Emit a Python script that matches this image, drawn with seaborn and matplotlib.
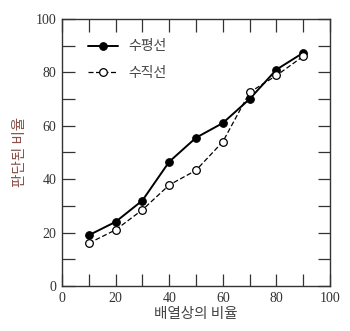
import matplotlib
matplotlib.use("Agg")
import matplotlib.pyplot as plt
import seaborn as sns
import pandas as pd
from matplotlib.ticker import MultipleLocator

x_vals = [10, 20, 30, 40, 50, 60, 70, 80, 90]
horizontal = [19, 24, 32, 46.5, 55.5, 61, 70, 81, 87.3]
vertical = [16, 21, 28.5, 37.8, 43.3, 54, 72.5, 78.8, 86]
series_names = ["수평선", "수직선"]
xlabel = "배열상의 비율"
ylabel = "판단된 비율"

df = pd.DataFrame({
    "x": x_vals * 2,
    "y": horizontal + vertical,
    "s": [series_names[0]] * len(x_vals) + [series_names[1]] * len(x_vals),
})

sns.set_theme(style="ticks")
plt.rcParams['font.family'] = ['Liberation Serif', 'Noto Sans CJK KR']

fig = plt.figure(figsize=(3.5, 3.31), dpi=100)
ax = fig.add_axes([0.177, 0.136, 0.766, 0.807])

sns.lineplot(data=df[df.s == series_names[0]], x="x", y="y", ax=ax,
             color="black", lw=1.4, marker="o", markersize=5.5,
             markerfacecolor="black", markeredgecolor="black",
             label=series_names[0])
sns.lineplot(data=df[df.s == series_names[1]], x="x", y="y", ax=ax,
             color="black", lw=0.9, linestyle=(0, (4, 2)), marker="o", markersize=5.5,
             markerfacecolor="white", markeredgecolor="black", markeredgewidth=0.9,
             label=series_names[1])

ax.set_xlim(0, 100)
ax.set_ylim(0, 100)
ax.xaxis.set_major_locator(MultipleLocator(20))
ax.xaxis.set_minor_locator(MultipleLocator(10))
ax.yaxis.set_major_locator(MultipleLocator(20))
ax.yaxis.set_minor_locator(MultipleLocator(10))
ax.tick_params(which="both", direction="in", length=9, width=0.9, top=True, right=True,
               labelsize=10, colors="#333333", pad=4)
for s in ax.spines.values():
    s.set_linewidth(1.0)
    s.set_color("#333333")

ax.set_xlabel(xlabel, fontsize=10.5, family=['Noto Sans CJK KR'], color="#444444", labelpad=2)
ax.set_ylabel(ylabel, fontsize=10.5, family=['Noto Sans CJK KR'], color="#8a5048", labelpad=6)

leg = ax.legend(loc="upper left", bbox_to_anchor=(0.05, 0.97), frameon=False,
                prop={'family': 'Noto Sans CJK KR', 'size': 10}, handlelength=2.2,
                labelspacing=0.9, handletextpad=0.7)
for t in leg.get_texts():
    t.set_color("#444444")

fig.savefig("out.png", dpi=100)
